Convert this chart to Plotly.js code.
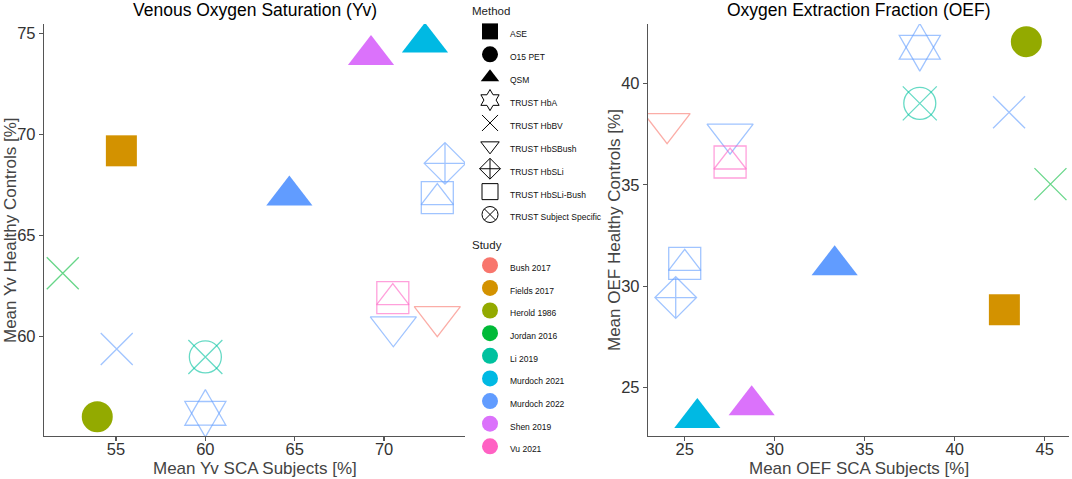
<!DOCTYPE html>
<html>
<head>
<meta charset="utf-8">
<script src="https://cdn.plot.ly/plotly-3.0.1.min.js"></script>
<style>html,body{margin:0;padding:0;background:#fff;}#chart{width:1072px;height:479px;}</style>
</head>
<body>
<div id="chart"></div>
<script>
// ---- data ----
const methods = ['ASE', 'O15 PET', 'QSM', 'TRUST HbA', 'TRUST HbBV', 'TRUST HbSBush', 'TRUST HbSLi', 'TRUST HbSLi-Bush', 'TRUST Subject Specific'];
const studies = ['Bush 2017', 'Fields 2017', 'Herold 1986', 'Jordan 2016', 'Li 2019', 'Murdoch 2021', 'Murdoch 2022', 'Shen 2019', 'Vu 2021'];
const pointStudy = ['Bush 2017', 'Fields 2017', 'Herold 1986', 'Jordan 2016', 'Li 2019', 'Murdoch 2021', 'Murdoch 2022', 'Murdoch 2022', 'Murdoch 2022', 'Murdoch 2022', 'Murdoch 2022', 'Murdoch 2022', 'Shen 2019', 'Vu 2021'];
const pointMethod = ['TRUST HbSBush', 'ASE', 'O15 PET', 'TRUST HbBV', 'TRUST Subject Specific', 'QSM', 'QSM', 'TRUST HbA', 'TRUST HbBV', 'TRUST HbSBush', 'TRUST HbSLi', 'TRUST HbSLi-Bush', 'QSM', 'TRUST HbSLi-Bush'];
const yvSCA = [72.98, 55.3, 53.95, 52.02, 60.0, 72.29, 64.7, 60.0, 55.04, 70.52, 73.41, 72.98, 69.27, 70.49];
const yvControls = [60.99, 69.19, 56.04, 63.14, 59.0, 74.54, 66.98, 56.21, 59.39, 60.49, 68.57, 66.88, 73.93, 61.93];
const oefSCA = [24.02, 42.76, 43.98, 45.32, 38.06, 25.7, 33.33, 38.06, 43.02, 27.52, 24.5, 25.0, 28.72, 27.52];
const oefControls = [38.01, 28.84, 42.05, 35.03, 39.01, 23.51, 31.03, 41.77, 38.57, 37.49, 29.44, 31.13, 24.13, 36.12];
const xTicksYv = [55, 60, 65, 70];
const yTicksYv = [60, 65, 70, 75];
const xTicksOEF = [25, 30, 35, 40, 45];
const yTicksOEF = [25, 30, 35, 40];
const panelTitles = ['Venous Oxygen Saturation (Yv)', 'Oxygen Extraction Fraction (OEF)'];
const xTitles = ['Mean Yv SCA Subjects [%]', 'Mean OEF SCA Subjects [%]'];
const yTitles = ['Mean Yv Healthy Controls [%]', 'Mean OEF Healthy Controls [%]'];

// ---- styles ----
const studyColors = ['#F8766D', '#D39200', '#93AA00', '#00BA38', '#00C19F', '#00B9E3', '#619CFF', '#DB72FB', '#FF61C3'];
const methodStyle = {
  'ASE': {open: false, parts: [['square', 31]], legend: 'square'},
  'O15 PET': {open: false, parts: [['circle', 31]], legend: 'circle'},
  'QSM': {open: false, parts: [['triangle-up', 40]], legend: 'triangle-up'},
  'TRUST HbA': {open: true, parts: [['hexagram-open', 36], ['hexagon2-open', 27.4]], legend: 'hexagram-open'},
  'TRUST HbBV': {open: true, parts: [['x-thin-open', 32]], legend: 'x-thin-open'},
  'TRUST HbSBush': {open: true, parts: [['triangle-down-open', 40]], legend: 'triangle-down-open'},
  'TRUST HbSLi': {open: true, parts: [['diamond-cross-open', 32]], legend: 'diamond-cross-open'},
  'TRUST HbSLi-Bush': {open: true, parts: [['square-open', 32], ['triangle-up-open', 28]], legend: 'square-open'},
  'TRUST Subject Specific': {open: true, parts: [['circle-open', 32], ['x-thin-open', 34]], legend: 'circle-x-open'}
};
function hexA(hex, a) {
  const r = parseInt(hex.slice(1, 3), 16), g = parseInt(hex.slice(3, 5), 16), b = parseInt(hex.slice(5, 7), 16);
  return 'rgba(' + r + ',' + g + ',' + b + ',' + a + ')';
}
const FONT = '"Liberation Sans", Arial, sans-serif';

const traces = [];
function addPanel(xs, ys, xa, ya) {
  methods.forEach(m => {
    const idx = pointMethod.map((pm, i) => pm === m ? i : -1).filter(i => i >= 0);
    if (!idx.length) return;
    const st = methodStyle[m];
    st.parts.forEach(p => {
      const cols = idx.map(i => {
        const c = studyColors[studies.indexOf(pointStudy[i])];
        return st.open ? hexA(c, 0.6) : c;
      });
      traces.push({
        type: 'scatter', mode: 'markers', xaxis: xa, yaxis: ya,
        x: idx.map(i => xs[i]), y: idx.map(i => ys[i]),
        text: idx.map(i => pointStudy[i] + ' – ' + m),
        hoverinfo: 'text+x+y', showlegend: false,
        marker: {symbol: p[0], size: p[1], color: cols, line: {width: st.open ? 1.3 : 0, color: cols}}
      });
    });
  });
}
addPanel(yvSCA, yvControls, 'x', 'y');
addPanel(oefSCA, oefControls, 'x2', 'y2');

// legend entries (two separate legends: Method and Study)
const nameSpan = s => '<span style="font-size:8.5px">' + s + '</span>';
methods.forEach(m => {
  traces.push({
    type: 'scatter', mode: 'markers', x: [null], y: [null], xaxis: 'x', yaxis: 'y',
    name: nameSpan(m), legend: 'legend', showlegend: true, hoverinfo: 'skip',
    marker: {symbol: methodStyle[m].legend, size: 20, color: '#000', line: {width: methodStyle[m].open ? 1 : 0, color: '#000'}}
  });
});
studies.forEach((s, k) => {
  traces.push({
    type: 'scatter', mode: 'markers', x: [null], y: [null], xaxis: 'x', yaxis: 'y',
    name: nameSpan(s), legend: 'legend2', showlegend: true, hoverinfo: 'skip',
    marker: {symbol: 'circle', size: 18, color: studyColors[k], line: {width: 0}}
  });
});

const axBase = {
  showgrid: false, zeroline: false, showline: true, linecolor: '#555', linewidth: 1.2,
  ticks: 'outside', ticklen: 4, tickcolor: '#555', tickwidth: 1.2,
  tickfont: {size: 16.5, color: '#333', family: FONT}, automargin: false, tickmode: 'array'
};
const yDom = [1 - 436 / 479, 1 - 24 / 479];
const titleFont = {size: 17, color: '#444', family: FONT};

const annotations = [];
[['x', 'y'], ['x2', 'y2']].forEach((ax, k) => {
  annotations.push({text: panelTitles[k], xref: ax[0] + ' domain', yref: 'paper', x: 0.5, y: 1 - 10 / 479,
    xanchor: 'center', yanchor: 'middle', showarrow: false, font: {size: 17.5, color: '#000', family: FONT}});
  annotations.push({text: xTitles[k], xref: ax[0] + ' domain', yref: 'paper', x: 0.5, y: 1 - 468 / 479,
    xanchor: 'center', yanchor: 'middle', showarrow: false, font: titleFont});
  annotations.push({text: yTitles[k], xref: 'paper', yref: ax[1] + ' domain', x: (k === 0 ? 10 : 614) / 1072, y: 0.5,
    xanchor: 'center', yanchor: 'middle', textangle: -90, showarrow: false, font: titleFont});
});

const legBase = {
  x: 470 / 1072, xanchor: 'left', yanchor: 'top',
  itemsizing: 'trace', bgcolor: 'rgba(0,0,0,0)', borderwidth: 0,
  itemclick: false, itemdoubleclick: false
};

const layout = {
  width: 1072, height: 479,
  margin: {l: 0, r: 0, t: 0, b: 0},
  paper_bgcolor: '#fff', plot_bgcolor: '#fff',
  font: {family: FONT},
  xaxis: Object.assign({}, axBase, {domain: [44 / 1072, 465 / 1072], range: [50.97, 74.53], tickvals: xTicksYv, ticklabelstandoff: -6}),
  yaxis: Object.assign({}, axBase, {domain: yDom, range: [55.09, 75.46], tickvals: yTicksYv}),
  xaxis2: Object.assign({}, axBase, {domain: [648 / 1072, 1069 / 1072], range: [22.96, 46.35], tickvals: xTicksOEF, anchor: 'y2', ticklabelstandoff: -6}),
  yaxis2: Object.assign({}, axBase, {domain: yDom, range: [22.62, 42.92], tickvals: yTicksOEF, anchor: 'x2'}),
  showlegend: true,
  legend: Object.assign({}, legBase, {y: 1, font: {size: 15.3, color: '#111', family: FONT},
    title: {text: 'Method', side: 'top', font: {size: 11.5, color: '#222', family: FONT}}}),
  legend2: Object.assign({}, legBase, {y: 1 - 234 / 479, font: {size: 15.1, color: '#111', family: FONT},
    title: {text: 'Study', side: 'top', font: {size: 11.5, color: '#222', family: FONT}}}),
  annotations: annotations
};

Plotly.newPlot('chart', traces, layout, {displayModeBar: false, staticPlot: true});
</script>
</body>
</html>
